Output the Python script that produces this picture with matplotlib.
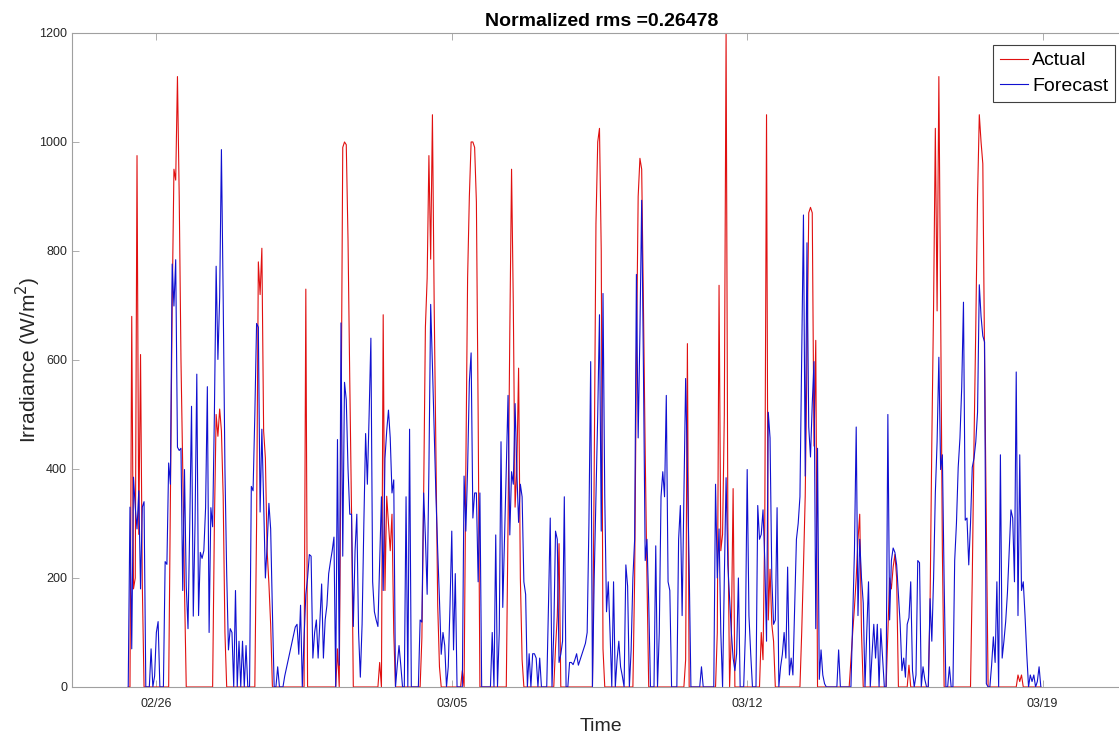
import matplotlib
matplotlib.use('Agg')
import matplotlib.pyplot as plt
import matplotlib.dates as mdates
import pandas as pd

# hourly samples, first sample at 2017-02-25 08:00
start = '2017-02-25 08:00'

# ---------------- Actual (W/m^2) ----------------
actual_w1 = [
    # Feb 25 (08-23h)
    0, 0, 680, 180, 200, 975, 280, 610, 190, 0, 0, 0, 0, 0, 0, 0,
    # Feb 26
    0, 0, 0, 0, 0, 0, 0, 0, 350, 700, 950, 930, 1120, 900, 600, 400, 180, 0, 0, 0, 0, 0, 0, 0,
    # Feb 27
    0, 0, 0, 0, 0, 0, 0, 0, 0, 300, 500, 460, 510, 470, 350, 100, 0, 0, 0, 0, 0, 0, 0, 0,
    # Feb 28
    0, 0, 0, 0, 0, 0, 0, 0, 0, 300, 780, 720, 805, 470, 420, 250, 190, 115, 0, 0, 0, 0, 0, 0,
    # Mar 1
    0, 0, 0, 0, 0, 0, 0, 0, 0, 0, 0, 0, 0, 730, 0, 0, 0, 0, 0, 0, 0, 0, 0, 0,
    # Mar 2
    0, 0, 0, 0, 0, 0, 0, 70, 0, 450, 990, 1000, 995, 820, 560, 320, 0, 0, 0, 0, 0, 0, 0, 0,
    # Mar 3
    0, 0, 0, 0, 0, 0, 0, 45, 0, 683, 177, 350, 300, 250, 317, 100, 0, 0, 0, 0, 0, 0, 0, 0,
]
actual_w2 = [
    # Mar 4
    0, 0, 0, 0, 0, 0, 0, 90, 350, 660, 750, 975, 785, 1050, 700, 420, 150, 37, 0, 0, 0, 0, 0, 0,
    # Mar 5
    0, 0, 0, 0, 0, 0, 30, 0, 400, 750, 900, 1000, 1000, 990, 890, 500, 0, 0, 0, 0, 0, 0, 0, 0,
    # Mar 6
    0, 0, 0, 0, 0, 0, 0, 0, 300, 650, 950, 700, 330, 400, 585, 200, 50, 0, 0, 0, 0, 0, 0, 0,
    # Mar 7
    0, 0, 0, 0, 0, 0, 0, 0, 0, 0, 0, 72, 130, 263, 0, 0, 0, 0, 0, 0, 0, 0, 0, 0,
    # Mar 8
    0, 0, 0, 0, 0, 0, 0, 0, 0, 400, 850, 1000, 1025, 800, 70, 0, 0, 0, 0, 0, 0, 0, 0, 0,
    # Mar 9
    0, 0, 0, 0, 0, 0, 0, 0, 200, 600, 900, 970, 950, 700, 430, 200, 0, 0, 0, 0, 0, 0, 0, 0,
    # Mar 10
    0, 0, 0, 0, 0, 0, 0, 0, 0, 0, 0, 0, 0, 50, 630, 0, 0, 0, 0, 0, 0, 0, 0, 0,
]
actual_w3 = [
    # Mar 11
    0, 0, 0, 0, 0, 0, 0, 100, 737, 250, 280, 500, 1200, 300, 0, 100, 364, 0, 0, 0, 0, 0, 0, 0,
    # Mar 12
    0, 0, 0, 0, 0, 0, 0, 0, 100, 50, 300, 1050, 123, 216, 115, 84, 0, 0, 0, 0, 0, 0, 0, 0,
    # Mar 13
    0, 0, 0, 0, 0, 0, 0, 100, 220, 350, 600, 870, 880, 870, 442, 636, 0, 0, 0, 0, 0, 0, 0, 0,
    # Mar 14
    0, 0, 0, 0, 0, 0, 0, 0, 0, 0, 0, 50, 100, 146, 200, 270, 317, 100, 0, 0, 0, 0, 0, 0,
    # Mar 15
    0, 0, 0, 0, 0, 0, 0, 0, 100, 200, 180, 220, 243, 200, 0, 0, 0, 0, 0, 0, 40, 0, 0, 0,
    # Mar 16
    0, 0, 0, 0, 0, 0, 0, 0, 150, 450, 700, 1025, 690, 1120, 700, 250, 0, 0, 0, 0, 0, 0, 0, 0,
    # Mar 17
    0, 0, 0, 0, 0, 0, 0, 0, 200, 450, 660, 900, 1050, 1000, 960, 600, 300, 0, 0, 0, 0, 0, 0, 0,
    # Mar 18
    0, 0, 0, 0, 0, 0, 0, 0, 0, 0, 22, 10, 22, 0, 0, 0, 0, 0, 0, 0, 0, 0, 0, 0,
]

# ---------------- Forecast (W/m^2) ----------------
forecast_w1 = [
    # Feb 25 (08-23h)
    0, 330, 70, 385, 330, 290, 360, 180, 330, 340, 0, 0, 0, 70, 0, 20,
    # Feb 26
    100, 120, 0, 0, 0, 230, 225, 411, 372, 776, 699, 784, 440, 434, 438, 177, 399, 185, 107, 300, 515, 130, 300, 574,
    # Feb 27
    131, 247, 236, 250, 329, 551, 100, 329, 294, 500, 772, 601, 714, 986, 714, 400, 208, 68, 107, 100, 0, 177, 0, 84,
    # Feb 28
    0, 84, 0, 76, 0, 0, 368, 360, 500, 667, 660, 321, 473, 341, 200, 259, 337, 290, 138, 0, 0, 37, 0, 0,
    # Mar 1
    0, 20, 35, 50, 65, 80, 95, 110, 115, 60, 150, 0, 90, 170, 200, 243, 240, 53, 100, 123, 53, 120, 189, 53,
    # Mar 2
    123, 150, 208, 230, 250, 275, 0, 454, 40, 668, 240, 559, 527, 400, 317, 317, 111, 250, 317, 100, 18, 115, 300, 465,
    # Mar 3
    372, 500, 640, 193, 138, 123, 111, 230, 349, 177, 419, 470, 508, 457, 356, 380, 0, 40, 76, 40, 0, 0, 349, 0,
]
forecast_w2 = [
    # Mar 4
    473, 0, 0, 0, 0, 0, 123, 119, 356, 275, 170, 400, 702, 590, 470, 350, 250, 160, 60, 100, 76, 0, 37, 150,
    # Mar 5
    286, 68, 208, 0, 0, 0, 0, 387, 286, 400, 560, 613, 310, 356, 356, 193, 356, 0, 0, 0, 0, 0, 0, 100,
    # Mar 6
    0, 279, 0, 100, 450, 146, 271, 400, 535, 279, 395, 372, 520, 395, 302, 372, 349, 193, 170, 0, 61, 0, 61, 61,
    # Mar 7
    53, 0, 53, 0, 0, 0, 0, 150, 310, 0, 100, 286, 271, 45, 60, 84, 349, 0, 0, 45, 45, 41, 50, 61,
    # Mar 8
    40, 50, 60, 70, 80, 100, 300, 597, 0, 200, 349, 500, 683, 286, 722, 349, 138, 193, 100, 0, 193, 0, 50, 84,
    # Mar 9
    37, 20, 0, 224, 185, 0, 68, 200, 271, 757, 457, 650, 893, 582, 232, 271, 154, 0, 0, 0, 259, 0, 100, 349,
    # Mar 10
    395, 349, 535, 193, 177, 0, 0, 0, 0, 271, 333, 131, 350, 566, 400, 220, 0, 0, 0, 0, 0, 0, 37, 0,
]
forecast_w3 = [
    # Mar 11
    0, 0, 0, 0, 0, 0, 372, 200, 290, 100, 0, 200, 384, 224, 162, 100, 53, 30, 61, 200, 0, 0, 0, 100,
    # Mar 12
    399, 131, 61, 0, 0, 0, 333, 271, 280, 325, 232, 84, 504, 457, 200, 115, 123, 329, 0, 37, 60, 100, 53, 220,
    # Mar 13
    22, 53, 22, 150, 271, 300, 349, 600, 866, 387, 815, 477, 422, 520, 597, 107, 438, 14, 68, 22, 6, 0, 0, 0,
    # Mar 14
    0, 0, 0, 0, 68, 0, 0, 0, 0, 0, 0, 0, 123, 250, 477, 131, 271, 200, 154, 0, 100, 193, 0, 60,
    # Mar 15
    115, 53, 115, 0, 107, 53, 0, 0, 500, 123, 232, 255, 247, 224, 170, 115, 30, 53, 18, 115, 127, 193, 30, 0,
    # Mar 16
    22, 232, 228, 0, 37, 14, 0, 0, 162, 84, 200, 356, 450, 605, 399, 426, 193, 0, 0, 37, 0, 0, 232, 300,
    # Mar 17
    403, 457, 550, 706, 306, 310, 224, 300, 403, 420, 450, 504, 738, 680, 644, 633, 6, 0, 0, 40, 92, 45, 193, 0,
    # Mar 18
    426, 53, 84, 120, 173, 250, 325, 310, 193, 578, 131, 426, 177, 193, 131, 60, 0, 22, 10, 22, 0, 10, 37, 0,
]

tick_dates = ['2017-02-26', '2017-03-05', '2017-03-12', '2017-03-19']
y_ticks = [0, 200, 400, 600, 800, 1000, 1200]
title_text = 'Normalized rms =0.26478'

actual = actual_w1 + actual_w2 + actual_w3
forecast = forecast_w1 + forecast_w2 + forecast_w3
times = pd.date_range(start, periods=len(actual), freq='h')

plt.rcParams['font.family'] = ['Liberation Sans', 'DejaVu Sans']

fig = plt.figure(figsize=(11.19, 7.36), dpi=100)
ax = fig.add_axes([0.0643, 0.0666, 0.946, 0.8886])

ax.plot(times, actual, color='#e01010', lw=0.8, label='Actual')
ax.plot(times, forecast, color='#1010d0', lw=0.8, label='Forecast')

ax.set_xlim(pd.Timestamp('2017-02-24 00:00'), pd.Timestamp('2017-03-21 02:00'))
ax.set_ylim(0, 1200)
ax.set_yticks(y_ticks)
ax.set_xticks([pd.Timestamp(d) for d in tick_dates])
ax.xaxis.set_major_formatter(mdates.DateFormatter('%m/%d'))

for s in ax.spines.values():
    s.set_color('#a0a0a0')
    s.set_linewidth(0.8)
ax.tick_params(direction='in', length=5, width=0.6, color='#a0a0a0',
               top=True, right=True, labelsize=9, labelcolor='#262626')
ax.tick_params(axis='x', pad=8)

ax.set_ylabel('Irradiance (W/m$^2$)', fontsize=15, color='#262626')
ax.yaxis.set_label_coords(-0.027, 0.5)
ax.set_xlabel('Time', fontsize=14, color='#262626', labelpad=6)
ax.set_title(title_text, fontsize=14, fontweight='bold', color='black', pad=5)

leg = ax.legend(loc='upper right', bbox_to_anchor=(0.9854, 0.9817), borderaxespad=0,
                fontsize=14, handlelength=1.45, handletextpad=0.2, labelspacing=0.4,
                borderpad=0.35, fancybox=False, framealpha=1)
leg.get_frame().set_edgecolor('#404040')
leg.get_frame().set_linewidth(0.8)

fig.savefig('out.png', dpi=100)
